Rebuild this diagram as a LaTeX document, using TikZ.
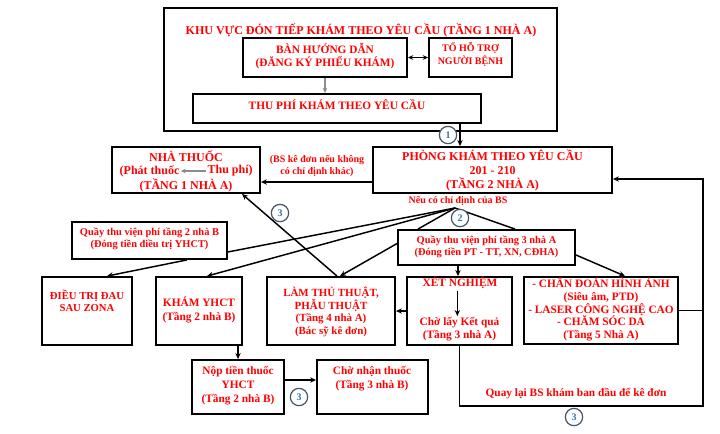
\documentclass[tikz,border=0pt]{standalone}
\usepackage{fontspec}
\setmainfont{Liberation Serif}
\usetikzlibrary{positioning, arrows.meta, calc}
\definecolor{flowRed}{HTML}{FF0000}
\definecolor{flowBlue}{HTML}{2E75B6}
\definecolor{ringSlate}{HTML}{44546A}
\definecolor{innerGray}{HTML}{8C8C8C}

\begin{document}
\begin{tikzpicture}[
  x=0.75pt, y=-0.75pt,
  flowbox/.style={
    rectangle, draw=black, line width=1.4pt,
    fill=white, inner sep=0pt
  },
  bigtxt/.style={
    font=\bfseries\fontsize{9}{10.5}\selectfont,
    text=flowRed, align=center, inner sep=1pt
  },
  midtxt/.style={
    font=\bfseries\fontsize{8.5}{10}\selectfont,
    text=flowRed, align=center, inner sep=1pt
  },
  smalltxt/.style={
    font=\bfseries\fontsize{7.8}{9}\selectfont,
    text=flowRed, align=center, inner sep=1pt
  },
  stepnum/.style={
    circle, draw=ringSlate, line width=0.9pt, fill=white,
    inner sep=0pt, minimum size=13pt, text=flowBlue,
    font=\bfseries\fontsize{7.5}{8}\selectfont
  },
  flowline/.style={draw=black, line width=1.1pt},
  flowarrow/.style={flowline, -{Stealth[length=4.5pt, width=4pt]}},
]
\useasboundingbox (0,0) rectangle (720,433);

% === RECEPTION AREA (floor 1, building A) ===
\node[flowbox, fill=none, line width=1.2pt, minimum width=294.75pt, minimum height=92.25pt] (area) at (360.5,69.5) {};
\node[bigtxt] (tArea) at (361,30) {KHU VỰC ĐÓN TIẾP KHÁM THEO YÊU CẦU (TẦNG 1 NHÀ A)};

\node[flowbox, minimum width=123pt, minimum height=29.25pt] (ban) at (325,57.5) {};
\node[midtxt, font=\bfseries\fontsize{8.5}{9.75}\selectfont] (tBan) at (325,56.5) {BÀN HƯỚNG DẪN\\(ĐĂNG KÝ PHIẾU KHÁM)};

\node[flowbox, minimum width=62.25pt, minimum height=29.25pt] (hotro) at (470.5,57.5) {};
\node[smalltxt, font=\bfseries\fontsize{7.5}{9.75}\selectfont] (tHotro) at (470.5,54.5) {TỔ HỖ TRỢ\\NGƯỜI BỆNH};

\node[flowbox, minimum width=216pt, minimum height=21.75pt] (thuphi) at (337,108.5) {};
\node[midtxt] (tThuphi) at (337,105) {THU PHÍ KHÁM THEO YÊU CẦU};

\draw[flowline, {Stealth[length=4pt, width=3.5pt]}-{Stealth[length=4pt, width=3.5pt]}] (ban.east) -- (hotro.west);
\draw[flowline, line width=0.8pt, draw=innerGray, -{Stealth[length=4pt, width=3.5pt]}] (ban.south) -- (ban.south |- thuphi.north);

% === CLINIC + PHARMACY ===
\node[flowbox, minimum width=179.25pt, minimum height=34.5pt] (pk) at (492.5,170) {};
\node[bigtxt] (tPk) at (492.5,170) {PHÒNG KHÁM THEO YÊU CẦU\\201 - 210\\(TẦNG 2 NHÀ A)};

\node[flowbox, minimum width=111pt, minimum height=34.5pt] (nt) at (186,170) {};
\node[bigtxt] (tNt1) at (186,156) {NHÀ THUỐC};
\node[bigtxt, anchor=east] (tNt2a) at (181,171) {(Phát thuốc};
\node[bigtxt, anchor=west] (tNt2b) at (206,171) {Thu phí)};
\node[bigtxt] (tNt3) at (186,185) {(TẦNG 1 NHÀ A)};
\draw[draw=innerGray, line width=1pt, -{Stealth[length=3.5pt, width=3.5pt]}] (tNt2b.west) -- (tNt2a.east);

\coordinate (fromThu) at (460,123);
\draw[flowarrow] (fromThu) -- (fromThu |- pk.north);
\draw[flowarrow] ([yshift=-9pt]pk.west) -- ([yshift=-9pt]pk.west -| nt.east);
\node[smalltxt, font=\bfseries\fontsize{7.5}{9}\selectfont] (tBs) at (317,166) {(BS kê đơn nếu không\\có chỉ định khác)};
\node[smalltxt, font=\bfseries\fontsize{7.5}{9}\selectfont] (tNeu) at (458,201) {Nếu có chỉ định của BS};

% === PAYMENT DESKS ===
\node[flowbox, minimum width=116.25pt, minimum height=27.75pt] (q2b) at (149.5,240.5) {};
\node[smalltxt] (tQ2b) at (149.5,239) {Quầy thu viện phí tầng 2 nhà B\\(Đóng tiền điều trị YHCT)};

\node[flowbox, minimum width=132.75pt, minimum height=26.25pt] (q3a) at (486.5,247.5) {};
\node[smalltxt] (tQ3a) at (486.5,246.5) {Quầy thu viện phí tầng 3 nhà A\\(Đóng tiền PT - TT, XN, CĐHA)};

% === SERVICES ===
\node[flowbox, minimum width=67.5pt, minimum height=51pt] (dt) at (87,311) {};
\node[smalltxt, font=\bfseries\fontsize{8}{9}\selectfont] (tDt) at (87,301) {ĐIỀU TRỊ ĐAU\\SAU ZONA};

\node[flowbox, minimum width=64.5pt, minimum height=51pt] (yhct) at (199,311) {};
\node[midtxt, font=\bfseries\fontsize{8.5}{10.5}\selectfont] (tYhct) at (199,310) {KHÁM YHCT\\(Tầng 2 nhà B)};

\node[flowbox, minimum width=96pt, minimum height=51pt] (lam) at (331,311) {};
\node[midtxt, font=\bfseries\fontsize{8.2}{9.5}\selectfont] (tLam) at (331,312) {LÀM THỦ THUẬT,\\PHẪU THUẬT\\(Tầng 4 nhà A)\\(Bác sỹ kê đơn)};

\node[flowbox, minimum width=78.75pt, minimum height=51pt] (xet) at (459.5,311) {};
\node[midtxt] (tXet1) at (460,283) {XÉT NGHIỆM};
\node[midtxt, font=\bfseries\fontsize{8.5}{9.75}\selectfont] (tXet2) at (459.5,329.5) {Chờ lấy Kết quả\\(Tầng 3 nhà A)};
\draw[flowarrow, line width=0.9pt] ([xshift=-2pt]tXet1.south) -- ([xshift=-2pt]tXet1.south |- tXet2.north);

\node[flowbox, minimum width=115.5pt, minimum height=50.25pt] (chan) at (601,310.5) {};
\node[midtxt, font=\bfseries\fontsize{8.5}{9.5}\selectfont] (tChan) at (601,309.5) {- CHẨN ĐOÁN HÌNH ẢNH\\(Siêu âm, PTD)\\- LASER CÔNG NGHỆ CAO\\- CHĂM SÓC DA\\(Tầng 5 Nhà A)};

\node[flowbox, minimum width=69pt, minimum height=40.5pt] (nop) at (238,387) {};
\node[midtxt, font=\bfseries\fontsize{8.5}{10.5}\selectfont] (tNop) at (238,386) {Nộp tiền thuốc\\YHCT\\(Tầng 2 nhà B)};

\node[flowbox, minimum width=83.25pt, minimum height=40.5pt] (cho) at (372.5,387) {};
\node[midtxt, font=\bfseries\fontsize{8.5}{10.5}\selectfont] (tCho) at (372,379) {Chờ nhận thuốc\\(Tầng 3 nhà B)};

% === FAN FROM CLINIC ===
\coordinate (fan) at (455,208);
\draw[flowline] (fan) -- ([yshift=-8.6pt]q2b.east);
\draw[flowarrow] (fan) -- ([xshift=6pt]yhct.north);
\draw[flowline] (fan) -- ([xshift=-51.4pt]q3a.north);
\draw[flowline] (fan) -- ([xshift=21.4pt]q3a.north);

\draw[flowarrow] ([xshift=28pt]q2b.south) -- ([xshift=15pt]dt.north);
\draw[flowarrow] ([yshift=3pt]q3a.west) -- ([xshift=6.75pt]lam.north);
\draw[flowarrow] ([xshift=-21.4pt]q3a.south) -- ([xshift=-21.4pt]q3a.south |- xet.north);
\draw[flowarrow] ([yshift=-5.6pt]q3a.east) -- ([xshift=18pt]chan.north);
\draw[flowarrow] (xet.west) -- (lam.east);
\draw[flowarrow] ([xshift=4.5pt]lam.north) -- ([xshift=42pt]nt.south);

\draw[flowarrow] ([xshift=29.25pt]yhct.south) -- ([xshift=29.25pt]yhct.south |- nop.north);
\draw[flowarrow] ([yshift=5.25pt]nop.east) -- ([yshift=5.25pt]nop.east -| cho.west);

% === RETURN TO DOCTOR ===
\coordinate (backR) at (703,406);
\draw[flowarrow] (xet.south) |- (backR) |- ([yshift=-6.75pt]pk.east);
\draw[flowline] (chan.east) -- (chan.east -| backR);
\node[midtxt] (tQuay) at (576,394) {Quay lại BS khám ban đầu để kê đơn};

% === STEP NUMBERS ===
\node[stepnum] (s1) at (448,135) {1};
\node[stepnum] (s2) at (460,218) {2};
\node[stepnum] (s3a) at (280,213) {3};
\node[stepnum] (s3b) at (299,397) {3};
\node[stepnum] (s3c) at (574,417) {3};

\end{tikzpicture}
\end{document}
